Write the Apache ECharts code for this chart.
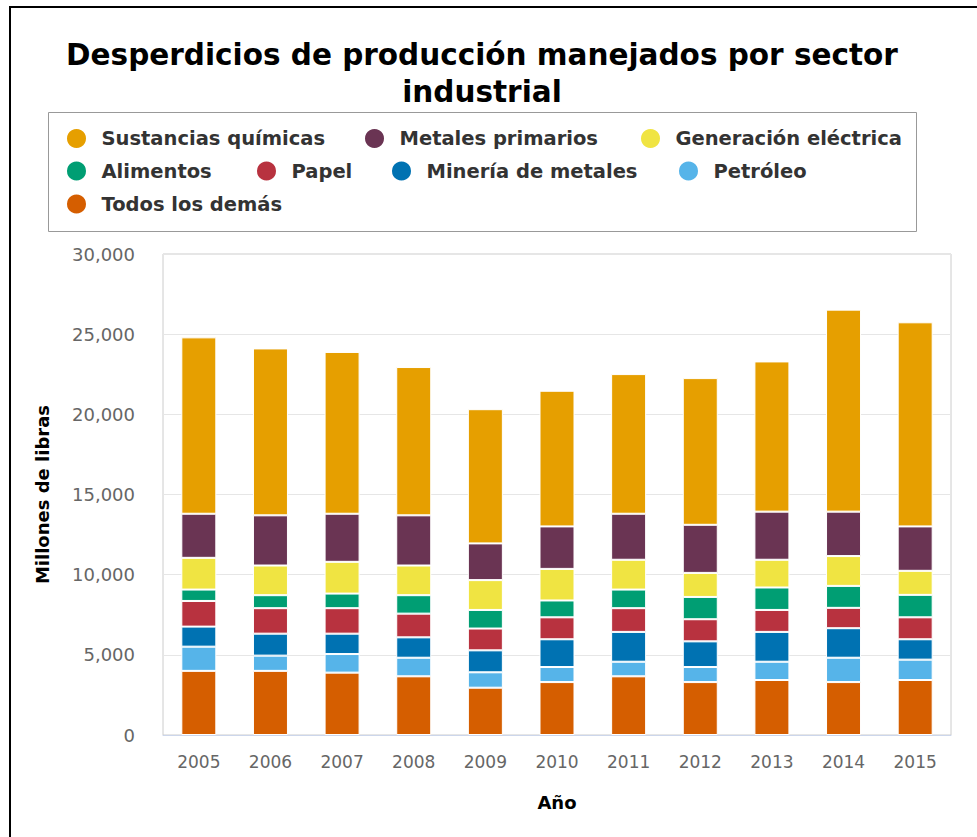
<!DOCTYPE html>
<html>
<head>
<meta charset="utf-8">
<script src="https://cdn.jsdelivr.net/npm/echarts@6/dist/echarts.min.js"></script>
<style>
  html, body { margin: 0; padding: 0; background: #fff; }
  #frame { position: absolute; left: 9px; top: 6px; right: -10px; bottom: -10px; border-left: 2px solid #000; border-top: 2px solid #000; }
  #chart { position: absolute; left: 0; top: 0; width: 977px; height: 837px; }
</style>
</head>
<body>
<div id="frame"></div>
<div id="chart"></div>
<script>
// years on the x axis
const years = ['2005', '2006', '2007', '2008', '2009', '2010', '2011', '2012', '2013', '2014', '2015']

// millions of pounds, stacked from the bottom up
const todosLosDemas = [4000, 4000, 3890, 3660, 2950, 3300, 3660, 3300, 3430, 3300, 3430]
const petroleo = [1510, 950, 1160, 1160, 960, 940, 910, 940, 1140, 1520, 1270]
const mineria = [1250, 1370, 1270, 1270, 1370, 1730, 1860, 1600, 1860, 1840, 1270]
const papel = [1600, 1590, 1590, 1480, 1360, 1370, 1480, 1380, 1370, 1270, 1370]
const alimentos = [710, 810, 910, 1150, 1160, 1050, 1160, 1390, 1400, 1370, 1400]
const generacion = [1980, 1850, 1980, 1850, 1860, 1970, 1860, 1500, 1730, 1860, 1500]
const metales = [2750, 3130, 3000, 3130, 2290, 2650, 2870, 3000, 3000, 2770, 2770]
const sustancias = [11000, 10410, 10090, 9250, 8370, 8460, 8710, 9150, 9370, 12600, 12730]

const yTicks = [0, 5000, 10000, 15000, 20000, 25000, 30000]

const stackOrder = [
  { name: 'Todos los demás', data: todosLosDemas, color: '#D55E00' },
  { name: 'Petróleo', data: petroleo, color: '#56B4E9' },
  { name: 'Minería de metales', data: mineria, color: '#0072B2' },
  { name: 'Papel', data: papel, color: '#B8323F' },
  { name: 'Alimentos', data: alimentos, color: '#009E73' },
  { name: 'Generación eléctrica', data: generacion, color: '#F0E442' },
  { name: 'Metales primarios', data: metales, color: '#6A3453' },
  { name: 'Sustancias químicas', data: sustancias, color: '#E69F00' }
]

// legend item placement (left edge of the item box, row)
const legendSlots = [
  ['Sustancias químicas', 65, 0],
  ['Metales primarios', 363, 0],
  ['Generación eléctrica', 639, 0],
  ['Alimentos', 65, 1],
  ['Papel', 255, 1],
  ['Minería de metales', 390, 1],
  ['Petróleo', 677, 1],
  ['Todos los demás', 65, 2]
]
const legendRowTop = [127, 159.5, 192.5]

const font = 'DejaVu Sans'

const myChart = echarts.init(document.getElementById('chart'), null, { renderer: 'svg' })

const option = {
  animation: false,
  title: {
    text: 'Desperdicios de producción manejados por sector\nindustrial',
    left: 482,
    textAlign: 'center',
    top: 36,
    padding: 0,
    textStyle: { fontFamily: font, fontSize: 29.5, fontWeight: 'bold', color: '#000', lineHeight: 37 }
  },
  legend: legendSlots.map(function (s) {
    return {
      data: [s[0]],
      left: s[1],
      top: legendRowTop[s[2]],
      padding: 0,
      icon: 'circle',
      itemWidth: 40,
      itemHeight: 21,
      selectedMode: false,
      textStyle: { fontFamily: font, fontSize: 19.5, fontWeight: 'bold', color: '#333' }
    }
  }),
  graphic: [
    {
      type: 'rect',
      shape: { x: 48.5, y: 112.5, width: 868, height: 119 },
      style: { fill: 'none', stroke: '#999', lineWidth: 1 },
      silent: true
    }
  ],
  grid: {
    left: 163,
    right: 26,
    top: 254,
    bottom: 102,
    show: true,
    borderColor: '#ccc',
    borderWidth: 1
  },
  xAxis: {
    type: 'category',
    data: years,
    name: 'Año',
    nameLocation: 'middle',
    nameGap: 58,
    nameTextStyle: { fontFamily: font, fontSize: 18, fontWeight: 'bold', color: '#000' },
    axisLine: { lineStyle: { color: '#ccd6eb', width: 1 } },
    axisTick: { length: 17, lineStyle: { color: '#ccd6eb' } },
    axisLabel: { fontFamily: font, fontSize: 17, color: '#666', margin: 18 }
  },
  yAxis: {
    type: 'value',
    min: yTicks[0],
    max: yTicks[yTicks.length - 1],
    interval: yTicks[1] - yTicks[0],
    name: 'Millones de libras',
    nameLocation: 'middle',
    nameRotate: 90,
    nameGap: 112,
    nameTextStyle: { fontFamily: font, fontSize: 18, fontWeight: 'bold', color: '#000' },
    axisLine: { show: false },
    axisTick: { show: false },
    splitLine: { lineStyle: { color: '#e6e6e6' } },
    axisLabel: {
      fontFamily: font,
      fontSize: 18,
      color: '#666',
      margin: 28,
      formatter: function (v) { return v.toLocaleString('en-US') }
    }
  },
  series: stackOrder.map(function (s) {
    return {
      name: s.name,
      type: 'bar',
      stack: 'total',
      barWidth: 35,
      data: s.data,
      itemStyle: { color: s.color, borderColor: '#fff', borderWidth: 1 }
    }
  })
}

myChart.setOption(option)
</script>
</body>
</html>
